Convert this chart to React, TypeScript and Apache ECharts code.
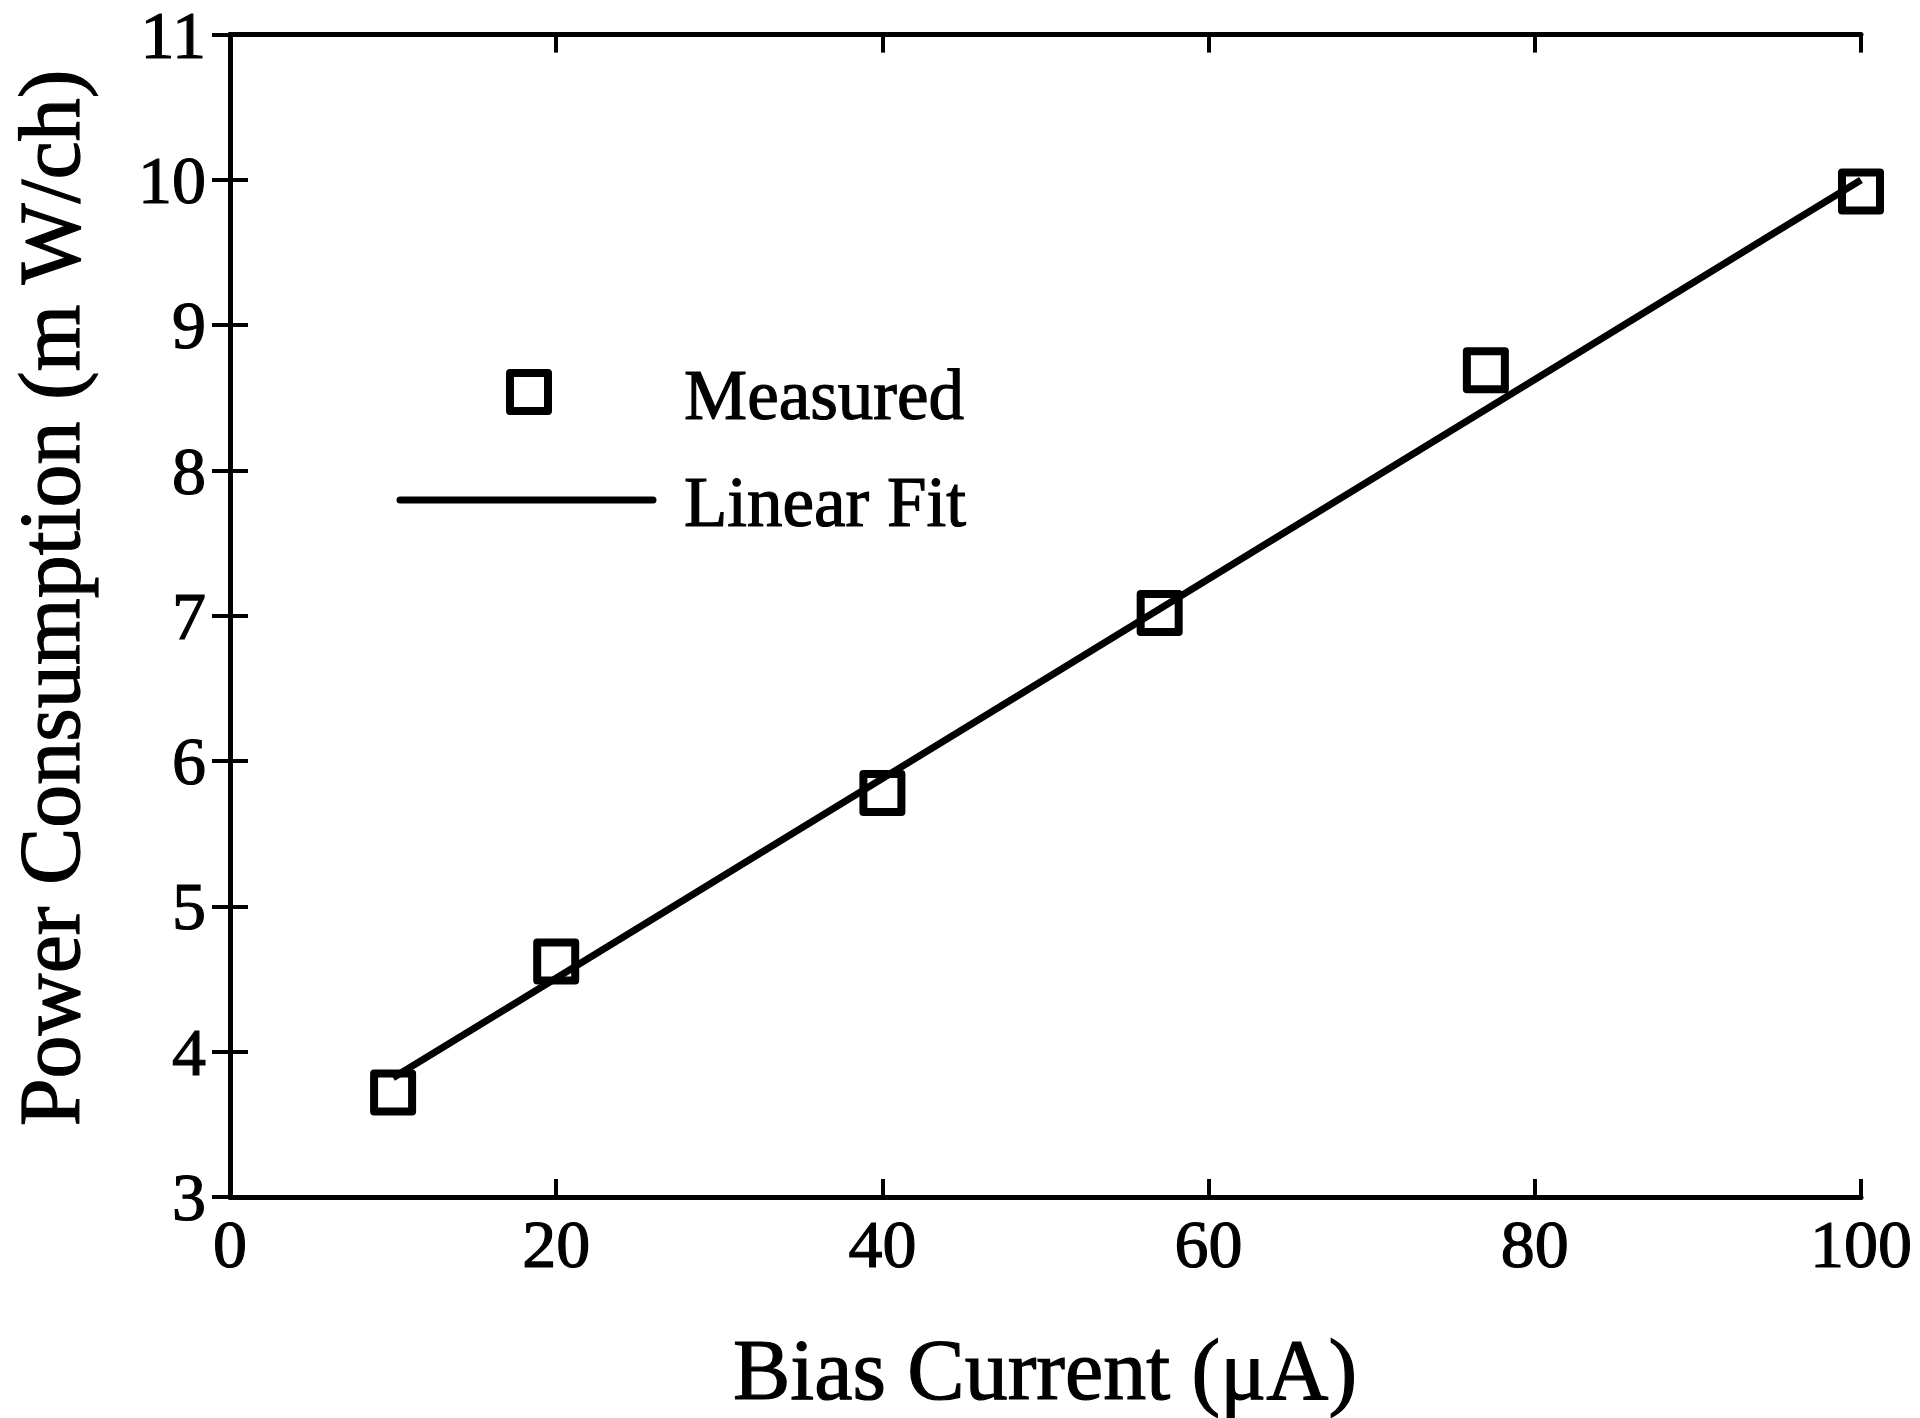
import React, { useEffect, useRef } from "react";
import * as echarts from "echarts";

const xTitle = "Bias Current (μA)";
const yTitle = "Power Consumption (m W/ch)";
const measuredName = "Measured";
const fitName = "Linear Fit";

const biasCurrent = [10, 20, 40, 57, 77, 100];
const measuredPower = [3.72, 4.62, 5.78, 7.02, 8.69, 9.92];

const fitX = [10, 100];
const fitY = [3.82, 10.0];

const FONT = "Liberation Serif";

export default function App() {
  const ref = useRef<HTMLDivElement>(null);

  useEffect(() => {
    document.body.style.margin = "0";
    if (!ref.current) return;
    const chart = echarts.init(ref.current, undefined, { renderer: "svg" });

    const axisCommon = {
      type: "value",
      axisLine: { show: true, lineStyle: { color: "#000", width: 5 } },
      axisTick: { show: true, inside: true, length: 18, lineStyle: { color: "#000", width: 4 } },
      splitLine: { show: false },
    };

    const labelStyle = {
      color: "#000",
      fontFamily: FONT,
      fontSize: 68,
      lineHeight: 56,
      textBorderColor: "#000",
      textBorderWidth: 1.2,
    };

    const option = {
      animation: false,
      backgroundColor: "#fff",
      grid: { left: 230, right: 59, top: 33, bottom: 221, containLabel: false },
      xAxis: [
        {
          ...axisCommon,
          position: "bottom",
          min: 0,
          max: 100,
          interval: 20,
          axisLabel: { show: true, ...labelStyle, margin: 19 },
        },
        {
          ...axisCommon,
          position: "top",
          min: 0,
          max: 100,
          interval: 20,
          axisLabel: { show: false },
        },
      ],
      yAxis: [
        {
          ...axisCommon,
          position: "left",
          min: 3,
          max: 11,
          interval: 1,
          axisLabel: { show: true, ...labelStyle, margin: 24 },
        },
        {
          ...axisCommon,
          position: "right",
          min: 3,
          max: 11,
          interval: 1,
          axisLabel: { show: false },
        },
      ],
      series: [
        {
          name: fitName,
          type: "line",
          data: fitX.map((x, i) => [x, fitY[i]]),
          showSymbol: false,
          symbol: "none",
          clip: false,
          lineStyle: { color: "#000", width: 7 },
          itemStyle: { color: "#000" },
          z: 2,
        },
        {
          name: measuredName,
          type: "scatter",
          data: biasCurrent.map((x, i) => [x, measuredPower[i]]),
          symbol: "rect",
          symbolSize: 38,
          clip: false,
          itemStyle: {
            color: "rgba(0,0,0,0)",
            borderColor: "#000",
            borderWidth: 8,
            borderJoin: "round",
            opacity: 1,
          },
          z: 3,
        },
      ],
      graphic: [
        {
          type: "rect",
          shape: { x: 529 - 19, y: 392 - 19, width: 38, height: 38 },
          style: { fill: "none", stroke: "#000", lineWidth: 8, lineJoin: "round" },
        },
        {
          type: "line",
          shape: { x1: 400, y1: 500, x2: 653, y2: 500 },
          style: { stroke: "#000", lineWidth: 7, lineCap: "round" },
        },
        {
          type: "text",
          x: 684,
          y: 395,
          style: {
            text: measuredName,
            fontFamily: FONT,
            fontSize: 71,
            lineHeight: 62,
            fill: "#000",
            stroke: "#000",
            lineWidth: 1.2,
            textAlign: "left",
            textVerticalAlign: "middle",
          },
        },
        {
          type: "text",
          x: 684,
          y: 502,
          style: {
            text: fitName,
            fontFamily: FONT,
            fontSize: 71,
            lineHeight: 62,
            fill: "#000",
            stroke: "#000",
            lineWidth: 1.2,
            textAlign: "left",
            textVerticalAlign: "middle",
          },
        },
        {
          type: "text",
          x: 1045,
          y: 1370,
          style: {
            text: xTitle,
            fontFamily: FONT,
            fontSize: 86,
            lineHeight: 76,
            fill: "#000",
            stroke: "#000",
            lineWidth: 1.2,
            textAlign: "center",
            textVerticalAlign: "middle",
          },
        },
        {
          type: "text",
          x: 50,
          y: 598,
          rotation: Math.PI / 2,
          style: {
            text: yTitle,
            fontFamily: FONT,
            fontSize: 86,
            lineHeight: 74,
            fill: "#000",
            stroke: "#000",
            lineWidth: 1.2,
            textAlign: "center",
            textVerticalAlign: "middle",
          },
        },
      ],
    };

    chart.setOption(option as any);
    return () => chart.dispose();
  }, []);

  return <div ref={ref} style={{ width: 1920, height: 1418 }} />;
}
